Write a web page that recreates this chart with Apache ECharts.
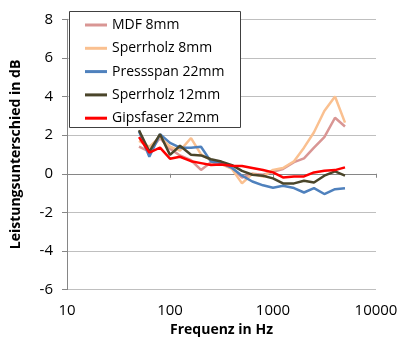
<!DOCTYPE html>
<html><head><meta charset="utf-8">
<script src="https://cdn.jsdelivr.net/npm/echarts@6/dist/echarts.min.js"></script>
<style>html,body{margin:0;padding:0;background:#fff}#c{width:401px;height:344px}</style>
</head><body><div id="c"></div>
<script>
const freqs = [50,63,80,100,125,160,200,250,315,400,500,630,800,1000,1250,1600,2000,2500,3150,4000,5000];
const mdf8 = [1.4,1.15,1.85,1.3,0.95,0.7,0.2,0.6,0.5,0.3,-0.2,0.0,-0.05,0.1,0.25,0.6,0.8,1.35,1.9,2.9,2.45];
const sperr8 = [1.7,1.4,1.9,1.4,1.2,1.85,1.0,0.7,0.5,0.25,-0.5,0.0,-0.15,0.2,0.3,0.65,1.35,2.15,3.25,4.0,2.65];
const press22 = [2.2,0.88,2.05,1.6,1.35,1.35,1.4,0.63,0.55,0.3,-0.1,-0.4,-0.6,-0.72,-0.62,-0.74,-0.97,-0.74,-1.05,-0.8,-0.75];
const sperr12 = [2.25,1.15,2.05,0.98,1.45,0.98,0.95,0.75,0.63,0.45,0.15,-0.05,-0.1,-0.24,-0.5,-0.5,-0.36,-0.45,-0.1,0.12,-0.1];
const gips22 = [1.9,1.1,1.35,0.78,0.88,0.65,0.55,0.45,0.48,0.42,0.4,0.3,0.19,0.07,-0.19,-0.14,-0.14,0.07,0.16,0.19,0.33];
const seriesNames = ['MDF 8mm','Sperrholz 8mm','Pressspan 22mm','Sperrholz 12mm','Gipsfaser 22mm'];
const seriesData = [mdf8, sperr8, press22, sperr12, gips22];
const colors = ['#d99694','#fac090','#4f81bd','#4a452a','#ff0000'];
const font = 'Open Sans';

const chart = echarts.init(document.getElementById('c'), null, {renderer:'canvas'});
chart.setOption({
  animation:false,
  backgroundColor:'#fff',
  grid:{left:67,right:25,top:19.3,bottom:54.4,containLabel:false},
  xAxis:{type:'log',logBase:10,min:10,max:10000,
    name:'Frequenz in Hz',nameLocation:'middle',nameGap:33,
    nameTextStyle:{fontFamily:font,fontWeight:'bold',fontSize:14,color:'#000'},
    axisLine:{show:true,lineStyle:{color:'#868686',width:1}},
    axisTick:{show:true,length:4,lineStyle:{color:'#868686'}},
    minorTick:{show:false},
    splitLine:{show:false},
    axisLabel:{fontFamily:font,fontSize:15,color:'#000',margin:14,
      formatter:v=>String(Math.round(v))}},
  yAxis:{type:'value',min:-6,max:8,interval:2,
    name:'Leistungsunterschied in dB',nameLocation:'middle',nameGap:44,nameRotate:90,
    nameTextStyle:{fontFamily:font,fontWeight:'bold',fontSize:14,color:'#000'},
    axisLine:{show:true,lineStyle:{color:'#868686',width:1}},
    axisTick:{show:true,inside:false,length:5,lineStyle:{color:'#868686'}},
    splitLine:{show:true,lineStyle:{color:'#bfbfbf',width:1}},
    axisLabel:{fontFamily:font,fontSize:15,color:'#000',margin:14}},
  legend:{show:true,orient:'vertical',left:80,top:11,z:101,
    icon:'rect',itemWidth:22,itemHeight:3,itemGap:5.3,itemTextGap:2,
    textStyle:{fontFamily:font,fontSize:14,color:'#000',lineHeight:18},
    data:seriesNames},
  graphic:[{type:'rect',shape:{x:69.5,y:11.5,width:171,height:116},
    style:{fill:'#fff',stroke:'#404040',lineWidth:1},z:100}],
  series:seriesNames.map((n,i)=>({
    name:n,type:'line',showSymbol:false,symbol:'none',
    data:freqs.map((f,j)=>[f,seriesData[i][j]]),
    lineStyle:{color:colors[i],width:2.5},itemStyle:{color:colors[i]},
    z:2+i
  }))
});
</script></body></html>
